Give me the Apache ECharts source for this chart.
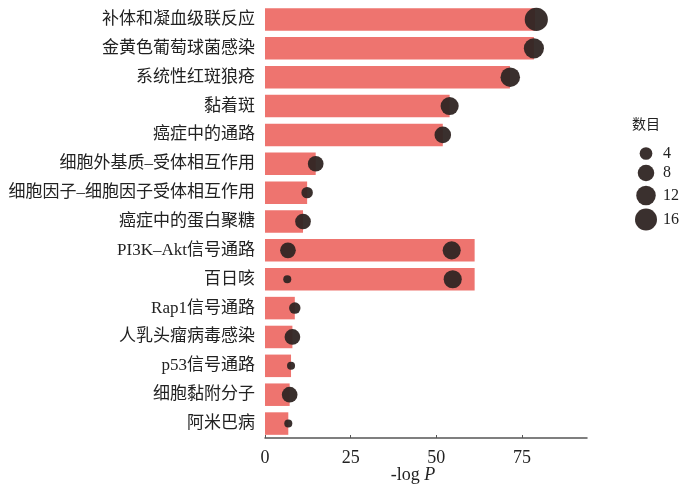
<!DOCTYPE html>
<html>
<head>
<meta charset="utf-8">
<script src="https://cdn.jsdelivr.net/npm/echarts@6/dist/echarts.min.js"></script>
<style>
  html, body { margin: 0; padding: 0; background: #fff; }
  #chart { width: 700px; height: 486px; }
</style>
</head>
<body>
<div id="chart"></div>
<script>
// 通路名称（从上到下）
const categories = [
  '补体和凝血级联反应', '金黄色葡萄球菌感染', '系统性红斑狼疮', '黏着斑', '癌症中的通路',
  '细胞外基质–受体相互作用', '细胞因子–细胞因子受体相互作用', '癌症中的蛋白聚糖',
  'PI3K–Akt信号通路', '百日咳', 'Rap1信号通路', '人乳头瘤病毒感染', 'p53信号通路',
  '细胞黏附分子', '阿米巴病'
]
// 条形长度 -log P
const logP = [78.8, 78.5, 71.5, 53.9, 51.9, 14.8, 12.3, 11.1, 61.2, 61.2, 8.7, 8.0, 7.6, 7.2, 6.8]
// 气泡：所在通路、横坐标、数目
const dotTerms = [
  '补体和凝血级联反应', '金黄色葡萄球菌感染', '系统性红斑狼疮', '黏着斑', '癌症中的通路',
  '细胞外基质–受体相互作用', '细胞因子–细胞因子受体相互作用', '癌症中的蛋白聚糖',
  'PI3K–Akt信号通路', 'PI3K–Akt信号通路', '百日咳', '百日咳', 'Rap1信号通路',
  '人乳头瘤病毒感染', 'p53信号通路', '细胞黏附分子', '阿米巴病'
]
const dotX = [79.2, 78.5, 71.6, 53.9, 51.9, 14.8, 12.3, 11.1, 6.7, 54.5, 6.5, 54.8, 8.7, 8.0, 7.6, 7.2, 6.8]
const dotCount = [18, 13, 12, 10, 8, 7, 3, 7, 7, 10, 1, 10, 3, 7, 1, 7, 1]
// 图例与刻度
const sizeLegend = [4, 8, 12, 16]
const xTicks = [0, 25, 50, 75]

const serif = "'Liberation Serif', 'Times New Roman', 'Noto Sans CJK SC', serif"
const dotColor = '#2f2523'
const sizeOf = c => 4.65 * Math.sqrt(c) + 3.4

const chart = echarts.init(document.getElementById('chart'))

const legendY = [153.5, 173, 195.5, 219.5]
const legendItems = []
sizeLegend.forEach((v, i) => {
  legendItems.push({
    type: 'circle',
    shape: { cx: 646, cy: legendY[i], r: sizeOf(v) / 2 },
    style: { fill: dotColor, opacity: 0.95 }
  })
  legendItems.push({
    type: 'text',
    x: 663,
    y: legendY[i],
    style: { text: String(v), font: '16px ' + serif, fill: '#222', verticalAlign: 'middle' }
  })
})
legendItems.push({
  type: 'text',
  x: 646,
  y: 125,
  style: { text: '数目', font: '14px ' + serif, fill: '#222', align: 'center', verticalAlign: 'middle' }
})

const option = {
  animation: false,
  backgroundColor: '#fff',
  grid: { left: 265, top: 5, width: 322, bottom: 48, outerBoundsMode: 'none', containLabel: false },
  xAxis: {
    type: 'value',
    min: 0,
    max: 94,
    name: '-log {i|P}',
    nameLocation: 'middle',
    nameGap: 28,
    nameMoveOverlap: false,
    nameTextStyle: {
      fontFamily: serif, fontSize: 18, color: '#222', padding: [0, 26, 0, 0],
      rich: { i: { fontFamily: serif, fontSize: 18, fontStyle: 'italic', color: '#222' } }
    },
    axisLine: { show: true, lineStyle: { color: '#555', width: 1.5 } },
    axisTick: { show: true, inside: true, length: 3, customValues: xTicks, lineStyle: { color: '#555' } },
    axisLabel: { customValues: xTicks, fontFamily: serif, fontSize: 18, color: '#222', margin: 11 },
    splitLine: { show: false }
  },
  yAxis: {
    type: 'category',
    data: categories,
    inverse: true,
    axisLine: { show: false },
    axisTick: { show: true, inside: true, alignWithLabel: true, length: 3, lineStyle: { color: '#222', width: 1.5 } },
    axisLabel: { fontFamily: serif, fontSize: 17, color: '#222', margin: 10 }
  },
  series: [
    {
      type: 'bar',
      data: logP,
      barWidth: '78%',
      itemStyle: { color: '#ee746f' },
      z: 1
    },
    {
      type: 'scatter',
      data: dotX.map((x, i) => [x, dotTerms[i], dotCount[i]]),
      symbolSize: v => sizeOf(v[2]),
      itemStyle: { color: dotColor, opacity: 0.95 },
      z: 3
    }
  ],
  graphic: legendItems
}

chart.setOption(option)
</script>
</body>
</html>
